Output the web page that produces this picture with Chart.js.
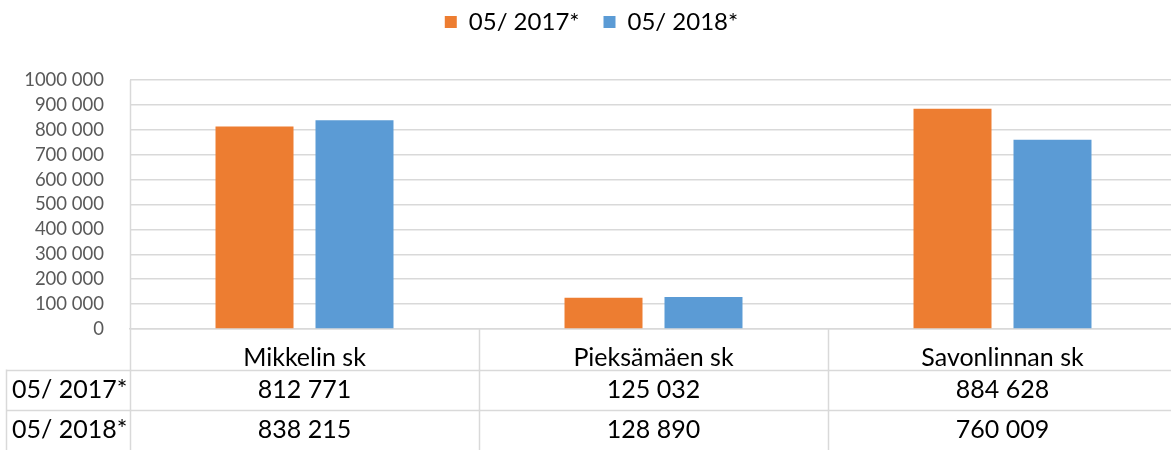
<!DOCTYPE html>
<html lang="fi">
<head>
    <meta charset="UTF-8">
    <title>Kuukausittaiset määrät</title>
    <script src="https://cdn.jsdelivr.net/npm/chart.js@4.4.1/dist/chart.umd.min.js"></script>
    <style>
        html, body { margin: 0; padding: 0; background: #fff; overflow: hidden; }
        /* plot runs a few px past the right edge, as in the original */
        #wrap { width: 1177px; height: 450px; }
    </style>
</head>
<body>
<div id="wrap"><canvas id="barChart"></canvas></div>
<script>
    // data
    const categories = ['Mikkelin sk', 'Pieksämäen sk', 'Savonlinnan sk'];
    const seriesNames = ['05/ 2017*', '05/ 2018*'];
    const values2017 = [812771, 125032, 884628];
    const values2018 = [838215, 128890, 760009];
    const tickLabels = ['0', '100 000', '200 000', '300 000', '400 000', '500 000',
        '600 000', '700 000', '800 000', '900 000', '1000 000'];

    const FONT = 'Lato, "Noto Sans", sans-serif';
    const gridColor = '#d9d9d9';

    function fmt(n) {
        return String(n).replace(/\B(?=(\d{3})+(?!\d))/g, ' ');
    }

    // space under the legend, legend nudged a bit right
    const legendMargin = {
        id: 'legendMargin',
        beforeInit(chart) {
            const fit = chart.legend.fit;
            chart.legend.fit = function () {
                fit.bind(chart.legend)();
                this.height += 36;
            };
        },
        afterLayout(chart) {
            chart.legend.left += 6;
        }
    };

    // data table under the x axis
    const dataTable = {
        id: 'dataTable',
        afterDraw(chart) {
            const ctx = chart.ctx;
            const area = chart.chartArea;
            const x = chart.scales.x;
            const rowH = 40.5;
            const top = area.bottom;
            const n = categories.length;
            const step = (area.right - area.left) / n;
            const rows = [values2017, values2018];

            ctx.save();
            ctx.strokeStyle = gridColor;
            ctx.lineWidth = 1.5;
            ctx.beginPath();
            // vertical lines
            for (let i = 0; i < n; i++) {
                const px = Math.round(area.left + step * i) + 0.5;
                ctx.moveTo(px, i === 0 ? area.top : top);
                ctx.lineTo(px, top + rowH * 3);
            }
            ctx.moveTo(6.5, top + rowH);
            ctx.lineTo(6.5, top + rowH * 3);
            // horizontal lines
            for (let r = 1; r <= 2; r++) {
                const py = Math.round(top + rowH * r) + 0.5;
                ctx.moveTo(6, py);
                ctx.lineTo(area.right, py);
            }
            ctx.stroke();

            ctx.fillStyle = '#000';
            ctx.font = '25px ' + FONT;
            ctx.textBaseline = 'middle';
            rows.forEach(function (vals, r) {
                const cy = top + rowH * (r + 1.5);
                ctx.textAlign = 'left';
                ctx.fillText(seriesNames[r], 12, cy);
                ctx.textAlign = 'center';
                vals.forEach(function (v, i) {
                    ctx.fillText(fmt(v), x.getPixelForValue(i), cy);
                });
            });
            ctx.restore();
        }
    };

    new Chart(document.getElementById('barChart'), {
        type: 'bar',
        data: {
            labels: categories,
            datasets: [{
                label: seriesNames[0],
                data: values2017,
                backgroundColor: '#ED7D31'
            }, {
                label: seriesNames[1],
                data: values2018,
                backgroundColor: '#5B9BD5'
            }]
        },
        options: {
            responsive: true,
            maintainAspectRatio: false,
            animation: false,
            layout: { padding: { top: -14, right: 0, bottom: 81, left: 0 } },
            categoryPercentage: 0.573,
            barPercentage: 0.78,
            plugins: {
                legend: {
                    position: 'top',
                    labels: {
                        boxWidth: 12,
                        boxHeight: 12,
                        padding: 24,
                        color: '#000',
                        font: { family: FONT, size: 24 }
                    }
                },
                tooltip: { enabled: false }
            },
            scales: {
                x: {
                    grid: { display: false },
                    border: { display: true, color: gridColor, width: 1.5 },
                    ticks: {
                        color: '#000',
                        padding: 6,
                        font: { family: FONT, size: 25 }
                    },
                    afterFit(scale) { scale.height = 40; }
                },
                y: {
                    min: 0,
                    max: 1000000,
                    grid: { color: gridColor, lineWidth: 1.5, drawTicks: false },
                    border: { display: false },
                    ticks: {
                        stepSize: 100000,
                        autoSkip: false,
                        padding: 26,
                        color: '#595959',
                        font: { family: FONT, size: 18.5 },
                        callback: function (value, index) { return tickLabels[index]; }
                    },
                    afterFit(scale) { scale.width = 130; }
                }
            }
        },
        plugins: [legendMargin, dataTable]
    });
</script>
</body>
</html>
